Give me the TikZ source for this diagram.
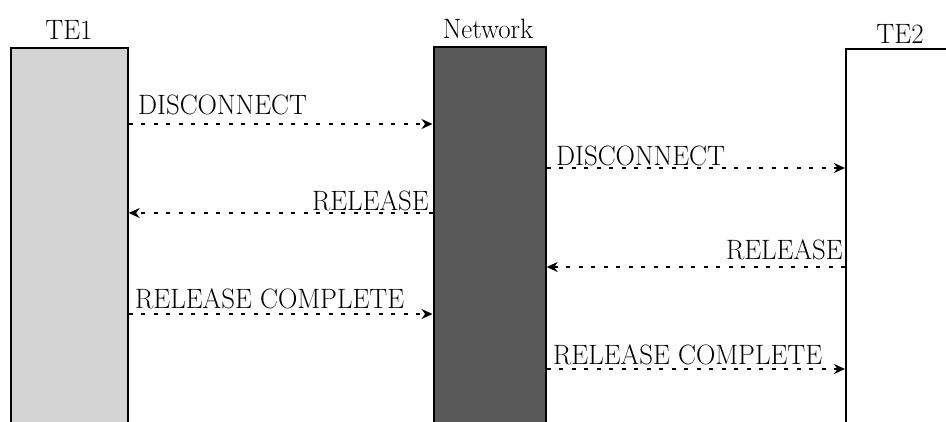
\documentclass[tikz,border=0pt]{standalone}
\usepackage{graphicx}
\usetikzlibrary{arrows.meta}

% labels are set slightly narrower than the font's natural width
\newcommand\msglabel[1]{\scalebox{0.96}[1]{#1}}
\newcommand\partylabel[1]{\scalebox{0.96}[1]{#1}}

\definecolor{lightfill}{HTML}{D4D4D4}
\definecolor{darkfill}{HTML}{595959}

\tikzset{
  lifeline/.style={draw=black, line width=2.2pt, anchor=north west, inner sep=0pt},
  party/.style={anchor=base, inner sep=0pt, font=\fontsize{28}{30}\selectfont},
  msgtext/.style={inner sep=0pt, font=\fontsize{28}{30}\selectfont},
  msg/.style={line width=2pt, dash pattern=on 4pt off 8.5pt,
              -{Stealth[length=11pt,width=10pt]}},
}

\begin{document}
\begin{tikzpicture}[x=1pt, y=-1pt]
  \useasboundingbox (0,0) rectangle (946,421);
  \clip (0,0) rectangle (946,421);

  % the three lifelines, running off the bottom (and right) edge
  \node[lifeline, fill=lightfill, minimum width=117pt, minimum height=400pt] (te1) at (9.5,47) {};
  \node[lifeline, fill=darkfill, minimum width=112pt, minimum height=400pt] (net) at (432.5,45.5) {};
  \node[lifeline, fill=white, minimum width=140pt, minimum height=400pt] (te2) at (845,48) {};

  % party names
  \node[party] (te1name) at (69,39) {\partylabel{TE1}};
  \node[party] (netname) at (488,38) {\partylabel{Network}};
  \node[party] (te2name) at (900,43) {\partylabel{TE2}};

  % messages
  \draw[msg] (te1.east |- 0,124) -- (net.west |- 0,124);
  \node[msgtext, anchor=base west] (m1) at (138,114) {\msglabel{DISCONNECT}};

  \draw[msg] (net.east |- 0,168) -- (te2.west |- 0,168);
  \node[msgtext, anchor=base west] (m2) at (556,165) {\msglabel{DISCONNECT}};

  \draw[msg] (net.west |- 0,213) -- (te1.east |- 0,213);
  \node[msgtext, anchor=base east] (m3) at (429,210) {\msglabel{RELEASE}};

  \draw[msg] (te2.west |- 0,267) -- (net.east |- 0,267);
  \node[msgtext, anchor=base east] (m4) at (843,259) {\msglabel{RELEASE}};

  \draw[msg] (te1.east |- 0,314) -- (net.west |- 0,314);
  \node[msgtext, anchor=base west] (m5) at (135,308) {\msglabel{RELEASE COMPLETE}};

  \draw[msg] (net.east |- 0,369) -- (te2.west |- 0,369);
  \node[msgtext, anchor=base west] (m6) at (553,364) {\msglabel{RELEASE COMPLETE}};
\end{tikzpicture}
\end{document}
